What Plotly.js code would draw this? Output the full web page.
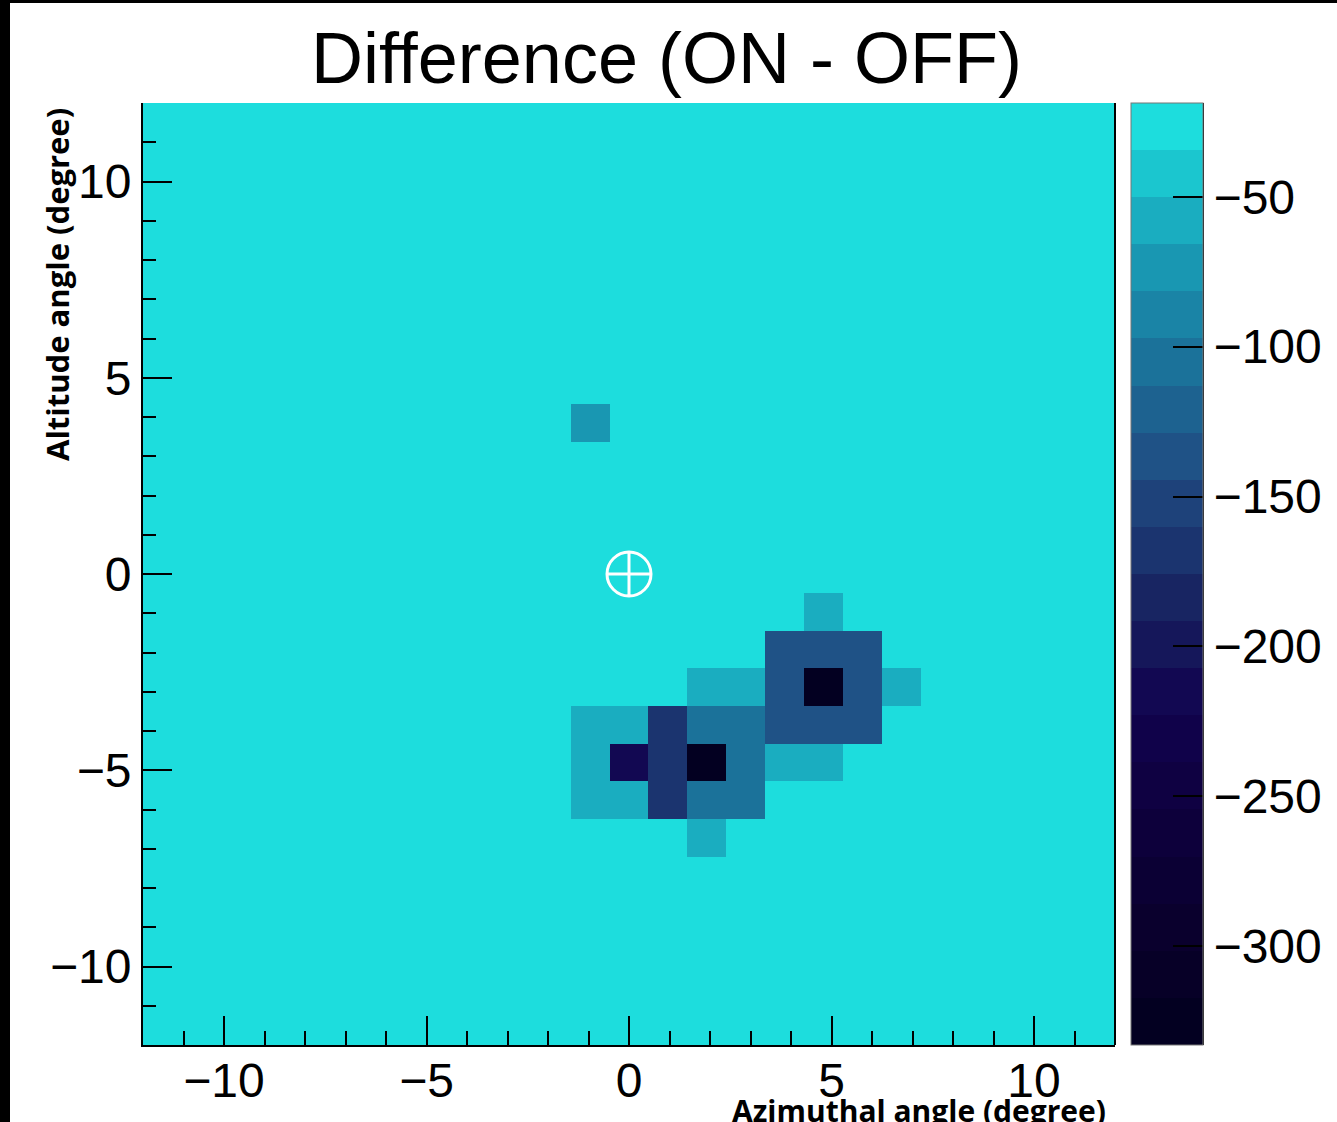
<!DOCTYPE html>
<html><head><meta charset="utf-8">
<script src="https://cdn.plot.ly/plotly-3.0.1.min.js"></script>
<style>html,body{margin:0;padding:0;background:#fff}#chart{width:1337px;height:1122px}</style>
</head><body><div id="chart"></div>
<script>
// Bin centres (degrees), 25 bins of 0.96 deg from -12 to 12
const xCenters = [-11.52,-10.56,-9.6,-8.64,-7.68,-6.72,-5.76,-4.8,-3.84,-2.88,-1.92,-0.96,0,0.96,1.92,2.88,3.84,4.8,5.76,6.72,7.68,8.64,9.6,10.56,11.52];
const yCenters = [-11.52,-10.56,-9.6,-8.64,-7.68,-6.72,-5.76,-4.8,-3.84,-2.88,-1.92,-0.96,0,0.96,1.92,2.88,3.84,4.8,5.76,6.72,7.68,8.64,9.6,10.56,11.52];
// Background content of every other bin
const background = -18.7;
// Non-background bins: centre x, centre y, content
const cellX = [-0.96, 4.8, 3.84, 4.8, 5.76, 3.84, 4.8, 5.76, 3.84, 4.8, 5.76, 6.72, 1.92, 2.88, 3.84, 4.8, -0.96, 0, -0.96, 0, -0.96, 0, 0.96, 0.96, 0.96, 1.92, 2.88, 1.92, 2.88, 1.92, 2.88, 1.92];
const cellY = [3.84, -0.96, -1.92, -1.92, -1.92, -2.88, -2.88, -2.88, -3.84, -3.84, -3.84, -2.88, -2.88, -2.88, -4.8, -4.8, -3.84, -3.84, -4.8, -4.8, -5.76, -5.76, -3.84, -4.8, -5.76, -3.84, -3.84, -4.8, -4.8, -5.76, -5.76, -6.72];
const cellZ = [-74, -58, -136, -136, -136, -136, -333, -136, -136, -136, -136, -58, -58, -58, -58, -58, -58, -58, -58, -215, -58, -58, -168, -168, -168, -105, -105, -325, -105, -105, -105, -58];
// Source position marker
const srcX = [0];
const srcY = [0];
// Colour-bar tick values
const cbTicks = [-50, -100, -150, -200, -250, -300];

// Build the z table
const z = yCenters.map(() => xCenters.map(() => background));
function idx(arr, v) { let b = 0; for (let i = 1; i < arr.length; i++) if (Math.abs(arr[i]-v) < Math.abs(arr[b]-v)) b = i; return b; }
cellZ.forEach((v, k) => { z[idx(yCenters, cellY[k])][idx(xCenters, cellX[k])] = v; });
const allZ = z.flat();
const zMin = Math.min(...allZ), zMax = Math.max(...allZ);

// ROOT kDeepSea palette, 20 discrete contour levels
const R = [0,9,13,17,24,32,27,25,29], G = [0,0,0,2,37,74,113,160,221], B = [28,42,59,78,98,129,154,184,221];
function deepSea(p) {
  const s = p * 8; let m = Math.min(7, Math.floor(s)); const f = s - m;
  const c = (a) => Math.round(a[m] + f * (a[m+1] - a[m]));
  return 'rgb(' + c(R) + ',' + c(G) + ',' + c(B) + ')';
}
const nLev = 20, colorscale = [];
for (let i = 0; i < nLev; i++) {
  const k = Math.floor((i + 0.99) * 255 / nLev);
  const col = deepSea(Math.min(1, k / 254));
  colorscale.push([i / nLev, col]);
  colorscale.push([(i + 1) / nLev, col]);
}

const tickFont = {family: 'Liberation Sans, Arial, sans-serif', size: 48, color: '#000'};
const data = [
  {type: 'heatmap', x: xCenters, y: yCenters, z: z, zmin: zMin, zmax: zMax, colorscale: colorscale, hoverinfo: 'skip',
   colorbar: {thickness: 72, thicknessmode: 'pixels', len: 1, lenmode: 'fraction', x: 1.0165, xanchor: 'left', xpad: 0, ypad: 0,
     y: 0.5, yanchor: 'middle', outlinewidth: 1, outlinecolor: '#777', tickmode: 'array', tickvals: cbTicks,
     ticks: 'inside', ticklen: 30, tickwidth: 2, tickcolor: '#000', tickfont: tickFont}},
  {type: 'scatter', mode: 'markers', x: srcX, y: srcY, hoverinfo: 'skip', showlegend: false,
   marker: {symbol: 'circle-cross-open', size: 44, color: '#fff', line: {color: '#fff', width: 3}}}
];

const layout = {
  width: 1337, height: 1122, paper_bgcolor: '#fff', plot_bgcolor: '#1ddddd', showlegend: false,
  margin: {l: 143, r: 222, t: 103, b: 77, pad: 0, autoexpand: false},
  title: {text: 'Difference (ON - OFF)', font: {family: 'Liberation Sans, Arial, sans-serif', size: 72, color: '#000'},
    x: 666.5/1337, xref: 'container', xanchor: 'center', y: 1 - 58/1122, yref: 'container', yanchor: 'middle'},
  xaxis: {range: [-12, 12], tickmode: 'linear', tick0: 0, dtick: 5, ticks: 'inside', ticklen: 29, tickwidth: 2, tickcolor: '#000',
    showline: true, linecolor: '#000', linewidth: 2, showgrid: false, zeroline: false, tickfont: tickFont, ticklabelstandoff: -8,
    minor: {tick0: 0, dtick: 1, ticks: 'inside', ticklen: 14, tickwidth: 2, tickcolor: '#000', showgrid: false}},
  yaxis: {range: [-12, 12], tickmode: 'linear', tick0: 0, dtick: 5, ticks: 'inside', ticklen: 29, tickwidth: 2, tickcolor: '#000',
    showline: true, linecolor: '#000', linewidth: 2, showgrid: false, zeroline: false, tickfont: tickFont,
    minor: {tick0: 0, dtick: 1, ticks: 'inside', ticklen: 13, tickwidth: 2, tickcolor: '#000', showgrid: false}},
  annotations: [
    {text: 'Altitude angle (degree)', textangle: -90, xref: 'paper', yref: 'paper', x: (57-143)/972, y: (1045-285)/942,
     xanchor: 'center', yanchor: 'middle', showarrow: false, font: {family: 'Open Sans, sans-serif', size: 31, color: '#000', weight: 'bold'}},
    {text: 'Azimuthal angle (degree)', xref: 'paper', yref: 'paper', x: (919-143)/972, y: (1045-1110)/942,
     xanchor: 'center', yanchor: 'middle', showarrow: false, font: {family: 'Open Sans, sans-serif', size: 30, color: '#000', weight: 'bold'}}
  ],
  shapes: [
    {type: 'line', xref: 'paper', yref: 'paper', x0: 1, x1: 1, y0: 0, y1: 1, line: {color: '#000', width: 2}, layer: 'above'},
    {type: 'line', xref: 'paper', yref: 'paper', x0: 1060/972, x1: 1060/972, y0: 0, y1: 1, line: {color: '#000', width: 2}, layer: 'above'},
    {type: 'rect', xref: 'paper', yref: 'paper', x0: -143/972, x1: -133/972, y0: -77/942, y1: 1045/942, fillcolor: '#000', line: {width: 0}, layer: 'above'},
    {type: 'rect', xref: 'paper', yref: 'paper', x0: -143/972, x1: 1194/972, y0: 1042/942, y1: 1045/942, fillcolor: '#000', line: {width: 0}, layer: 'above'}
  ]
};
Plotly.newPlot('chart', data, layout, {displayModeBar: false, staticPlot: true});
</script>
</body></html>
